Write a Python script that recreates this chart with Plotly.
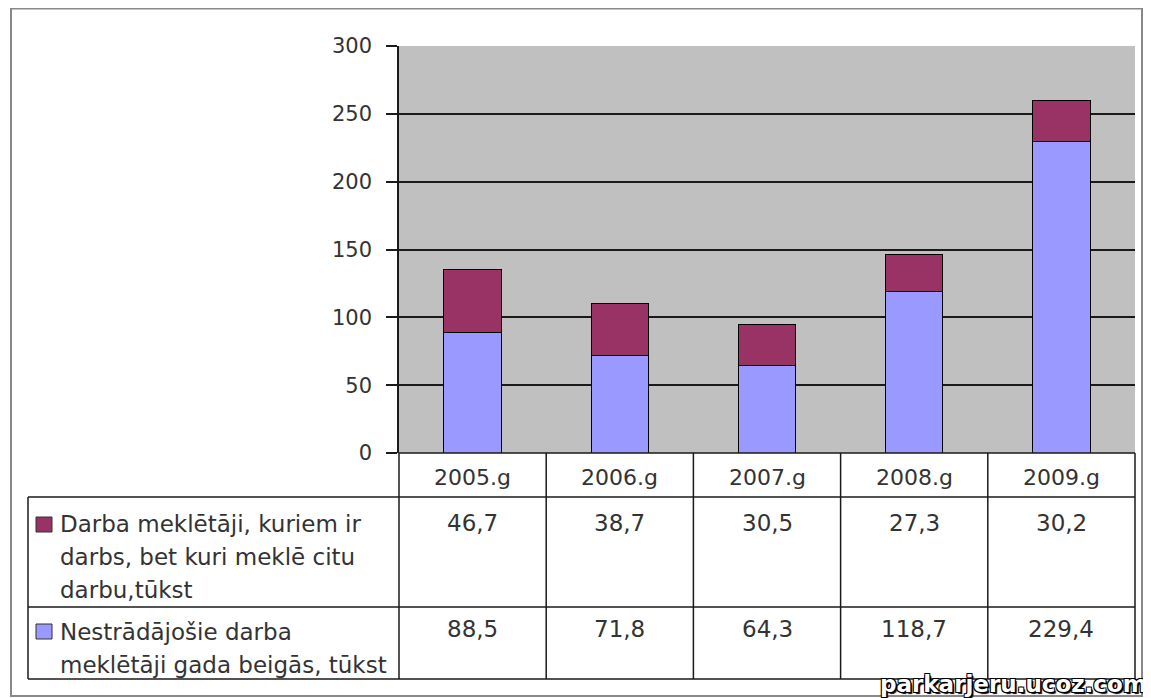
import plotly.graph_objects as go

# page has an 8px body margin; size the figure so the visible window matches 1151x698
OFF = 8
WF, HF = 1151 - OFF, 698 - OFF

categories = ["2005.g", "2006.g", "2007.g", "2008.g", "2009.g"]
employed_seekers = [46.7, 38.7, 30.5, 27.3, 30.2]
unemployed_seekers = [88.5, 71.8, 64.3, 118.7, 229.4]
series_names = [
    ["Darba meklētāji, kuriem ir", "darbs, bet kuri meklē citu", "darbu,tūkst"],
    ["Nestrādājošie darba", "meklētāji gada beigās, tūkst"],
]
y_ticks = [0, 50, 100, 150, 200, 250, 300]

C_LOW = "#9999ff"
C_HIGH = "#993366"
TXT = "#333333"
FONT = "DejaVu Sans, Verdana, sans-serif"


def px(x):
    return (x - OFF) / WF


def py(y):
    return 1 - (y - OFF) / HF


# plot area in screen pixels
PL, PR, PT, PB = 399, 1135, 46, 453
TL = 28          # table left
ROW1 = 497       # bottom of category row
ROW2 = 607       # bottom of first series row
TB = 679         # table bottom

fig = go.Figure()
fig.add_trace(go.Bar(x=categories, y=unemployed_seekers, marker=dict(color=C_LOW, line=dict(color="#000000", width=1)),
                     name=" ".join(series_names[1])))
fig.add_trace(go.Bar(x=categories, y=employed_seekers, marker=dict(color=C_HIGH, line=dict(color="#000000", width=1)),
                     name=" ".join(series_names[0])))

fig.update_layout(
    width=WF, height=HF,
    margin=dict(l=0, r=0, t=0, b=0, pad=0, autoexpand=False),
    paper_bgcolor="white",
    plot_bgcolor="#c0c0c0",
    barmode="stack",
    bargap=0.61,
    showlegend=False,
    font=dict(family=FONT, color=TXT),
    xaxis=dict(domain=[px(PL), px(PR)], showticklabels=False, showgrid=False, zeroline=False,
               showline=False, ticks="", automargin=False),
    yaxis=dict(domain=[py(PB), py(PT)], range=[0, 300], tickvals=y_ticks, automargin=False,
               tickfont=dict(size=21, color=TXT, family=FONT), ticklabelstandoff=10,
               showgrid=True, gridcolor="#1a1a1a", gridwidth=1.5, zeroline=False,
               showline=True, linecolor="#1a1a1a", linewidth=1.5,
               ticks="outside", ticklen=11, tickcolor="#1a1a1a", tickwidth=1.5),
)

shapes = []
LC = "#1a1a1a"


def line(x0, y0, x1, y1, w=1.5, c=LC):
    shapes.append(dict(type="line", xref="paper", yref="paper", x0=px(x0), y0=py(y0), x1=px(x1), y1=py(y1),
                       line=dict(color=c, width=w)))


# outer border
shapes.append(dict(type="rect", xref="paper", yref="paper", x0=px(11), y0=py(696), x1=px(1142), y1=py(8.5),
                   line=dict(color="#888888", width=2)))

# table lines
n = len(categories)
colw = (PR - PL) / n
line(PL, PB, PR, PB)
line(TL, ROW1, PR, ROW1)
line(TL, ROW2, PR, ROW2)
line(TL, TB, PR, TB)
line(TL, ROW1, TL, TB)
for i in range(n + 1):
    xx = PL + i * colw
    line(xx, PB, xx, TB)

annotations = []


def text(x, y, s, size=22, anchor="center", color=TXT):
    annotations.append(dict(xref="paper", yref="paper", x=px(x), y=py(y), text=s, showarrow=False,
                            xanchor=anchor, yanchor="middle", font=dict(size=size, color=color, family=FONT)))


def fmt(v):
    return f"{v:.1f}".replace(".", ",")


for i, c in enumerate(categories):
    cx = PL + (i + 0.5) * colw
    text(cx, 477, c)
    text(cx, 523, fmt(employed_seekers[i]), size=23)
    text(cx, 629, fmt(unemployed_seekers[i]), size=23)

# legend keys in table
for (y0, color, lines_, ystart) in [(517, C_HIGH, series_names[0], 524), (624, C_LOW, series_names[1], 632)]:
    shapes.append(dict(type="rect", xref="paper", yref="paper", x0=px(36), x1=px(52), y0=py(y0 + 15), y1=py(y0),
                       fillcolor=color, line=dict(color="#333333", width=1)))
    for k, s in enumerate(lines_):
        text(58, ystart + k * 33, s, size=23, anchor="left")

# watermark
annotations.append(dict(xref="paper", yref="paper", x=px(1149), y=py(684), xanchor="right", yanchor="middle",
                        text="<b>parkarjeru.ucoz.com</b>", showarrow=False,
                        font=dict(size=23, color="white", family="DejaVu Sans",
                                  shadow="1px 1px 0 #000, -1px -1px 0 #000, 1px -1px 0 #000, -1px 1px 0 #000, 2px 2px 1px #000")))

fig.update_layout(shapes=shapes, annotations=annotations)
fig.write_html("out.html")
